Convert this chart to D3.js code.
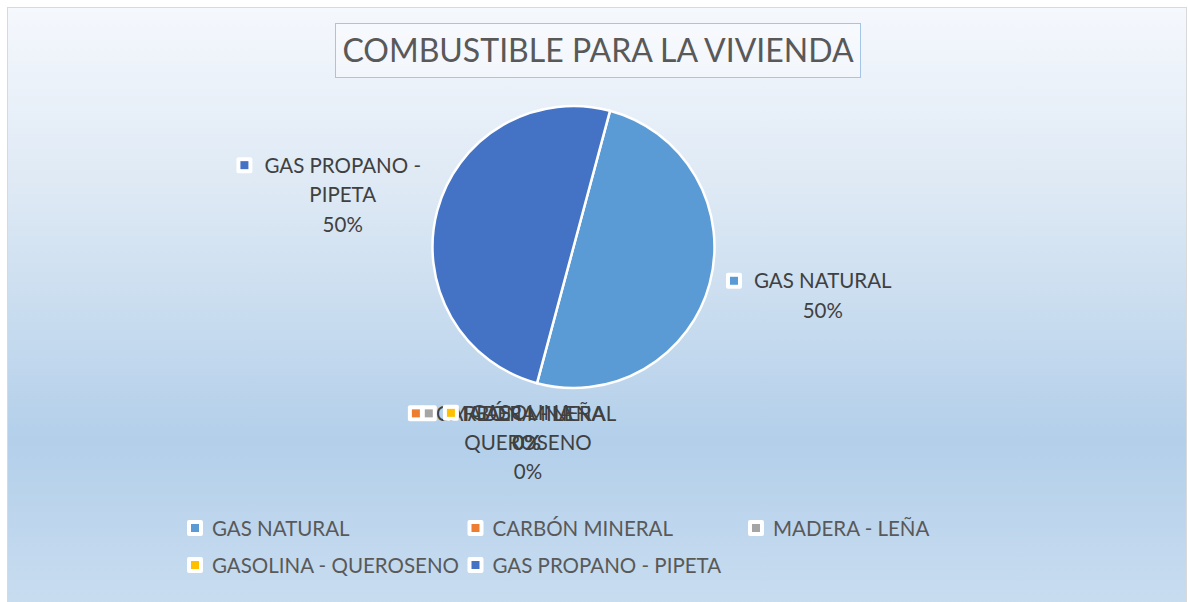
<!DOCTYPE html>
<html>
<head>
<meta charset="utf-8">
<script src="https://cdn.jsdelivr.net/npm/d3@7"></script>
<style>
    body { margin: 0; background: #fff; }
    text { font-family: Lato, "Open Sans", sans-serif; }
</style>
</head>
<body>
<div id="chart"></div>
<script>
// Chart data
let categories = ["GAS NATURAL", "CARBÓN MINERAL", "MADERA - LEÑA", "GASOLINA - QUEROSENO", "GAS PROPANO - PIPETA"];
let values = [50, 0, 0, 0, 50];
// Data label text, split in lines as in the original chart
let label_lines = [["GAS NATURAL"], ["CARBÓN MINERAL"], ["MADERA - LEÑA"], ["GASOLINA -", "QUEROSENO"], ["GAS PROPANO -", "PIPETA"]];
let slice_colors = ["#5b9bd5", "#ed7d31", "#a5a5a5", "#ffc000", "#4472c4"];
let chart_title = "COMBUSTIBLE PARA LA VIVIENDA";

let width = 1188, height = 602;
let pie_center = {x: 573.5, y: 247}, radius = 141;
let line_height = 29.5, font_size = 20.5;

let svg = d3.select("#chart")
    .append("svg")
    .attr("width", width)
    .attr("height", height);

// Background gradient of the chart area
let grad = svg.append("defs").append("linearGradient")
    .attr("id", "bg")
    .attr("x1", 0).attr("y1", 0).attr("x2", 0).attr("y2", 1);
grad.append("stop").attr("offset", "0%").attr("stop-color", "#f5f8fd");
grad.append("stop").attr("offset", "32%").attr("stop-color", "#dce8f4");
grad.append("stop").attr("offset", "72%").attr("stop-color", "#b3cfea");
grad.append("stop").attr("offset", "100%").attr("stop-color", "#c9ddf0");

svg.append("rect")
    .attr("x", 7.5).attr("y", 7.5)
    .attr("width", width - 9).attr("height", height)
    .attr("fill", "url(#bg)")
    .attr("stroke", "#d9d9d9");

// Title box
let title_g = svg.append("g");
title_g.append("rect")
    .attr("x", 335.5).attr("y", 23.5)
    .attr("width", 525).attr("height", 54)
    .attr("fill", "rgba(255,255,255,0.35)")
    .attr("stroke", "#a3c6e6");
title_g.append("text")
    .attr("x", 598).attr("y", 62)
    .attr("text-anchor", "middle")
    .attr("font-size", 32)
    .attr("fill", "#595959")
    .text(chart_title);

let data = categories.map(function(c, i) {
    return {name: c, value: values[i], lines: label_lines[i], color: slice_colors[i]};
});
let total = d3.sum(values);
let pct = d3.format(".0%");

// Excel pie starts at 12 o'clock, this one is turned a little
let rotation = 15 * Math.PI / 180;
let pie = d3.pie()
    .sort(null)
    .value(function(d) { return d.value; })
    .startAngle(rotation)
    .endAngle(rotation + 2 * Math.PI);
let arc = d3.arc().innerRadius(0).outerRadius(radius);
let arcs = pie(data);

let pie_g = svg.append("g")
    .attr("transform", `translate(${pie_center.x}, ${pie_center.y})`);
pie_g.selectAll("path")
    .data(arcs.filter(function(d) { return d.value > 0; }))
    .enter().append("path")
    .attr("d", arc)
    .attr("fill", function(d) { return d.data.color; })
    .attr("stroke", "#fff")
    .attr("stroke-width", 2.5)
    .attr("stroke-linejoin", "round");

/**
 * Draws a small legend key: white rounded box with the colour square in it
 */
function drawKey(g, x, y, color) {
    g.append("rect")
        .attr("x", x - 8).attr("y", y - 8)
        .attr("width", 16).attr("height", 16)
        .attr("rx", 2)
        .attr("fill", "#fff");
    g.append("rect")
        .attr("x", x - 4).attr("y", y - 4)
        .attr("width", 8).attr("height", 8)
        .attr("fill", color);
}

// Data labels, placed outside the slices like Excel's best fit
let label_r = 158;
let labels_g = svg.append("g");
arcs.forEach(function(a) {
    let lines = a.data.lines.concat([pct(a.data.value / total)]);
    let g = labels_g.append("g");
    let texts = lines.map(function(l) {
        return g.append("text")
            .attr("text-anchor", "middle")
            .attr("font-size", font_size)
            .attr("fill", "#404040")
            .text(l);
    });
    let widths = texts.map(function(t) { return t.node().getComputedTextLength(); });

    let mid = (a.startAngle + a.endAngle) / 2;
    let sx = Math.sin(mid), sy = -Math.cos(mid);
    // Extents of the block with its centre line at x = 0
    let left = d3.min(widths, function(w) { return -w / 2; });
    // the key only counts for labels at the sides
    if (Math.abs(sx) > 0.5) left = Math.min(left, -widths[0] / 2 - 28);
    let right = d3.max(widths, function(w) { return w / 2; });
    let half_w = (right - left) / 2, half_h = lines.length * line_height / 2;

    let px = pie_center.x + sx * label_r, py = pie_center.y + sy * label_r;
    let block_x = px + sx * Math.abs(sx) * half_w * 1.07;
    let block_y = py + sy * half_h;
    let cx = block_x - (left + right) / 2;
    let top = block_y - half_h;

    texts.forEach(function(t, i) {
        t.attr("x", cx).attr("y", top + line_height * (i + 0.5) + 7.5);
    });
    drawKey(g, cx - widths[0] / 2 - 20, top + line_height / 2, a.data.color);
    // keep the text above the key box
    texts.forEach(function(t) { t.raise(); });
});

// Legend at the bottom, three columns
let legend_cols = 3, col_w = 280.5, legend_x = 212, legend_y = 528, row_h = 37;
let legend = svg.append("g");
data.forEach(function(d, i) {
    let col = i % legend_cols, row = Math.floor(i / legend_cols);
    let x = legend_x + col * col_w, y = legend_y + row * row_h;
    drawKey(legend, x - 17, y, d.color);
    legend.append("text")
        .attr("x", x).attr("y", y + 7.5)
        .attr("font-size", font_size)
        .attr("fill", "#595959")
        .text(d.name);
});
</script>
</body>
</html>
